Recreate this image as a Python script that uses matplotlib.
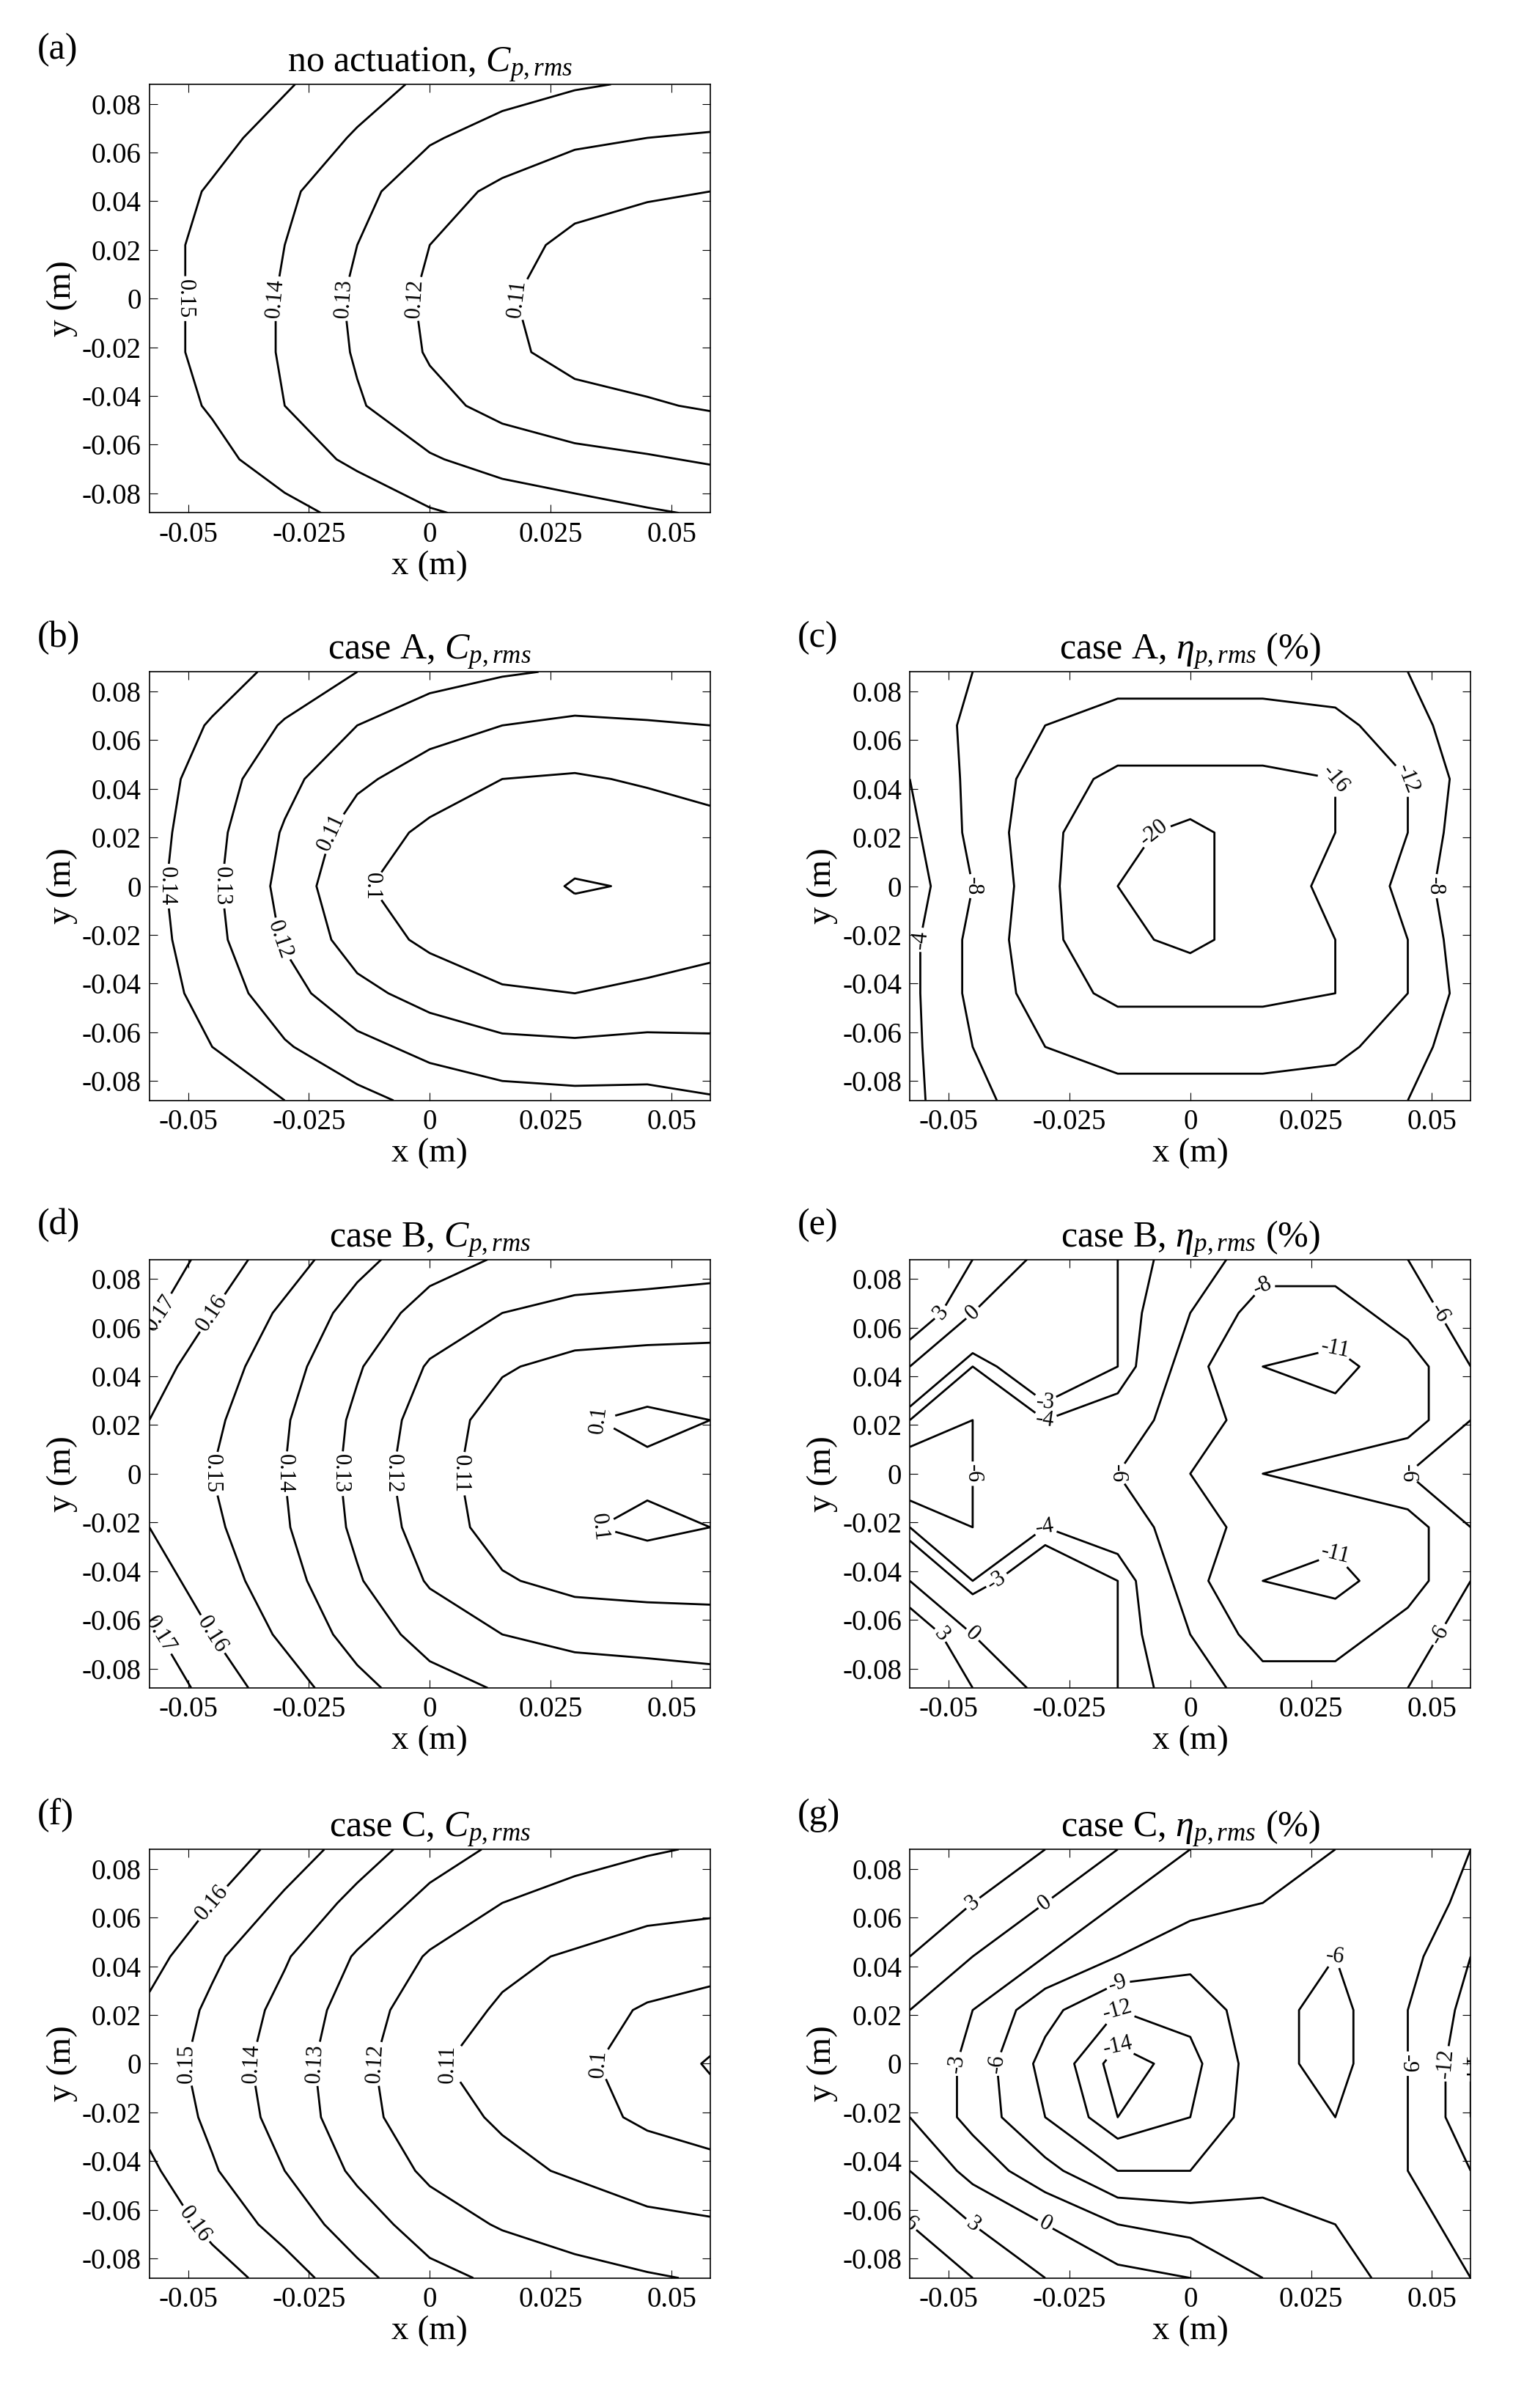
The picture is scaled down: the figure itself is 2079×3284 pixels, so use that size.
import numpy as np
import matplotlib.pyplot as plt

plt.rcParams['font.family'] = 'serif'
plt.rcParams['font.serif'] = ['Liberation Serif', 'DejaVu Serif']
plt.rcParams['mathtext.fontset'] = 'custom'
plt.rcParams['mathtext.rm'] = 'Liberation Serif'
plt.rcParams['mathtext.it'] = 'Liberation Serif:italic'
plt.rcParams['axes.unicode_minus'] = False

# grid points (m)
xg = [-0.058, -0.045, -0.03, -0.015, 0.0, 0.015, 0.03, 0.045, 0.058]
yg = [-0.088, -0.066, -0.044, -0.022, 0.0, 0.022, 0.044, 0.066, 0.088]

# rows = y (bottom to top), columns = x (left to right)
cp_none = [
    [0.160, 0.158, 0.153, 0.147, 0.141, 0.137, 0.134, 0.131, 0.129],
    [0.157, 0.153, 0.145, 0.138, 0.131, 0.126, 0.123, 0.121, 0.119],
    [0.155, 0.149, 0.140, 0.131, 0.123, 0.117, 0.113, 0.111, 0.109],
    [0.154, 0.147, 0.139, 0.129, 0.119, 0.112, 0.107, 0.105, 0.104],
    [0.154, 0.147, 0.139, 0.128, 0.118, 0.111, 0.106, 0.104, 0.103],
    [0.154, 0.147, 0.140, 0.130, 0.120, 0.113, 0.108, 0.106, 0.105],
    [0.155, 0.149, 0.142, 0.133, 0.124, 0.118, 0.113, 0.111, 0.110],
    [0.157, 0.153, 0.146, 0.139, 0.131, 0.126, 0.122, 0.120, 0.119],
    [0.160, 0.156, 0.151, 0.144, 0.138, 0.134, 0.131, 0.129, 0.128],
]
cp_a = [
    [0.150, 0.146, 0.140, 0.133, 0.127, 0.124, 0.123, 0.123, 0.121],
    [0.147, 0.140, 0.131, 0.123, 0.117, 0.113, 0.112, 0.113, 0.112],
    [0.145, 0.136, 0.124, 0.113, 0.106, 0.101, 0.100, 0.102, 0.104],
    [0.144, 0.133, 0.119, 0.105, 0.098, 0.095, 0.093, 0.095, 0.097],
    [0.143, 0.132, 0.117, 0.101, 0.096, 0.093, 0.0895, 0.0905, 0.094],
    [0.144, 0.133, 0.119, 0.105, 0.098, 0.095, 0.093, 0.095, 0.097],
    [0.145, 0.135, 0.123, 0.112, 0.105, 0.100, 0.099, 0.101, 0.103],
    [0.147, 0.139, 0.129, 0.120, 0.114, 0.110, 0.108, 0.109, 0.110],
    [0.150, 0.145, 0.137, 0.130, 0.124, 0.121, 0.119, 0.119, 0.119],
]
eta_a = [
    [-3, -7, -10, -11, -11, -11, -10, -8, -5],
    [-3, -8, -12, -13, -13, -13, -13, -10, -5],
    [-3, -9, -14, -17, -17, -17, -16, -12, -6],
    [-3, -9, -15, -19, -21, -18, -16, -12, -5],
    [-2, -8, -15, -20, -21, -18, -15, -11, -4],
    [-3, -9, -15, -19, -21, -18, -16, -12, -5],
    [-4, -9, -14, -17, -17, -17, -16, -12, -6],
    [-5, -9, -12, -13, -13, -13, -13, -10, -5],
    [-6, -8, -10, -11, -11, -11, -10, -8, -4],
]
cp_b = [
    [0.180, 0.165, 0.155, 0.143, 0.134, 0.129, 0.126, 0.125, 0.124],
    [0.172, 0.160, 0.148, 0.136, 0.126, 0.120, 0.117, 0.116, 0.115],
    [0.165, 0.155, 0.144, 0.131, 0.119, 0.111, 0.107, 0.106, 0.106],
    [0.160, 0.152, 0.141, 0.128, 0.115, 0.106, 0.101, 0.098, 0.100],
    [0.158, 0.150, 0.140, 0.127, 0.113, 0.106, 0.103, 0.102, 0.102],
    [0.160, 0.152, 0.141, 0.128, 0.115, 0.106, 0.101, 0.098, 0.100],
    [0.164, 0.155, 0.144, 0.131, 0.119, 0.111, 0.107, 0.106, 0.106],
    [0.172, 0.160, 0.148, 0.136, 0.126, 0.120, 0.117, 0.116, 0.115],
    [0.180, 0.165, 0.155, 0.143, 0.134, 0.129, 0.126, 0.125, 0.124],
]
eta_b = [
    [6, 3, -1, -3, -5, -7, -7, -6, -4],
    [6, 0, -2, -3, -6, -9, -9, -7, -5],
    [0, -4, -1, -3, -7, -11, -12, -9, -6],
    [-4, -6, -4, -5, -7, -9, -10, -9, -6],
    [-8, -6, -4, -6, -8, -8, -7, -6, -4],
    [-4, -6, -4, -5, -7, -9, -10, -9, -6],
    [0, -4, -1, -3, -7, -11, -12, -9, -6],
    [6, 0, -2, -3, -6, -9, -9, -7, -5],
    [6, 3, -1, -3, -5, -7, -7, -6, -4],
]
cp_c = [
    [0.175, 0.165, 0.155, 0.143, 0.133, 0.128, 0.124, 0.121, 0.119],
    [0.168, 0.157, 0.146, 0.135, 0.125, 0.119, 0.115, 0.112, 0.111],
    [0.162, 0.151, 0.140, 0.128, 0.118, 0.112, 0.109, 0.106, 0.104],
    [0.157, 0.148, 0.136, 0.124, 0.113, 0.109, 0.104, 0.098, 0.094],
    [0.156, 0.146, 0.135, 0.123, 0.111, 0.107, 0.102, 0.096, 0.089],
    [0.158, 0.148, 0.137, 0.125, 0.114, 0.109, 0.104, 0.099, 0.096],
    [0.164, 0.152, 0.141, 0.129, 0.119, 0.112, 0.109, 0.106, 0.105],
    [0.172, 0.160, 0.148, 0.137, 0.127, 0.120, 0.116, 0.113, 0.112],
    [0.180, 0.168, 0.156, 0.145, 0.135, 0.128, 0.124, 0.121, 0.119],
]
eta_c = [
    [8, 6, 3, 1, 0, -3, -5, -7, -9],
    [6, 3, 0, -3, -4, -5, -6, -8, -10],
    [3, -1, -5, -9, -9, -7, -7, -9, -12],
    [0, -4, -9, -14, -12, -7, -6, -9, -14],
    [0, -4, -10, -15, -13, -7, -5, -9, -14],
    [0, -3, -8, -12, -11, -7, -5, -9, -13],
    [3, 0, -3, -6, -8, -7, -6, -8, -12],
    [6, 3, 0, -3, -5, -6, -6, -7, -10],
    [6, 6, 3, 0, -3, -5, -6, -7, -9],
]

cp_title = r"$C_{p,rms}$"
eta_title = r"$\eta_{p,rms}$ (%)"

panels = [
    ("(a)", "no actuation, " + cp_title, cp_none, [0.11, 0.12, 0.13, 0.14, 0.15], (0.098, 0.787)),
    ("(b)", "case A, " + cp_title, cp_a, [0.09, 0.10, 0.11, 0.12, 0.13, 0.14], (0.098, 0.543)),
    ("(c)", "case A, " + eta_title, eta_a, [-20, -16, -12, -8, -4], (0.597, 0.543)),
    ("(d)", "case B, " + cp_title, cp_b, [0.10, 0.11, 0.12, 0.13, 0.14, 0.15, 0.16, 0.17], (0.098, 0.299)),
    ("(e)", "case B, " + eta_title, eta_b, [-11, -8, -6, -4, -3, 0, 3, 6], (0.597, 0.299)),
    ("(f)", "case C, " + cp_title, cp_c, [0.09, 0.10, 0.11, 0.12, 0.13, 0.14, 0.15, 0.16], (0.098, 0.054)),
    ("(g)", "case C, " + eta_title, eta_c, [-14, -12, -9, -6, -3, 0, 3, 6], (0.597, 0.054)),
]

fig = plt.figure(figsize=(20.79, 32.84), dpi=100)
X, Y = np.meshgrid(xg, yg)

for tag, title, z, levels, (x0, y0) in panels:
    ax = fig.add_axes([x0, y0, 0.368, 0.178])
    cs = ax.contour(X, Y, np.array(z), levels=levels, colors='k',
                    linewidths=2.0, linestyles='solid')
    ax.clabel(cs, fmt='%g', fontsize=22, inline=True, inline_spacing=4)
    ax.set_xlim(-0.058, 0.058)
    ax.set_ylim(-0.088, 0.088)
    ax.set_xticks([-0.05, -0.025, 0, 0.025, 0.05])
    ax.set_xticklabels(["-0.05", "-0.025", "0", "0.025", "0.05"], family='serif')
    ax.set_yticks(np.arange(-0.08, 0.081, 0.02))
    ax.set_yticklabels(["-0.08", "-0.06", "-0.04", "-0.02", "0", "0.02", "0.04", "0.06", "0.08"],
                       family='serif')
    ax.tick_params(labelsize=28, direction='in', length=8, top=True, right=True, pad=8)
    for s in ax.spines.values():
        s.set_linewidth(1.2)
    ax.set_xlabel("x (m)", fontsize=34, labelpad=2)
    ax.set_ylabel("y (m)", fontsize=34, labelpad=4)
    ax.set_title(title, fontsize=36, pad=12)
    ax.text(-0.2, 1.04, tag, transform=ax.transAxes, fontsize=36, va='bottom')

fig.savefig("out.png", dpi=100)
